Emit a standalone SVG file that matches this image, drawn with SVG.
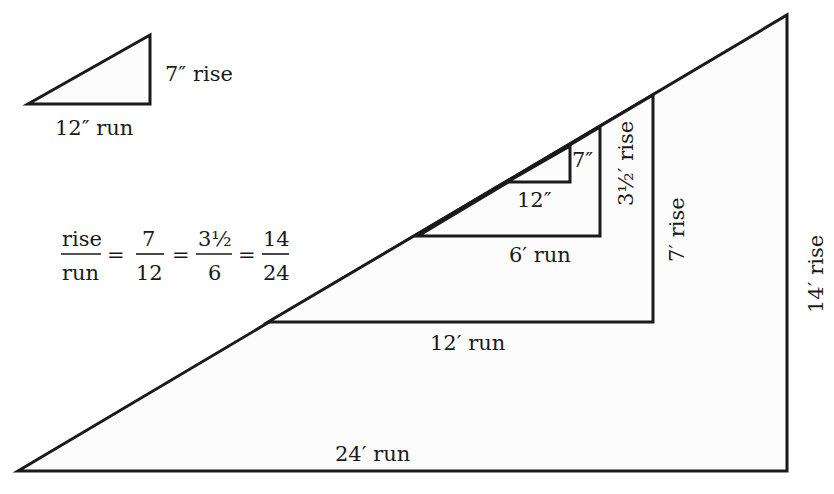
<svg xmlns="http://www.w3.org/2000/svg" width="834" height="494" viewBox="0 0 834 494">
<style>
.tri{fill:#fcfcfc;stroke:#1a1a1a;stroke-width:3;stroke-linejoin:miter}
.t{font-family:'DejaVu Serif','Liberation Serif',serif;font-size:21px;fill:#1a1a1a}
.f{stroke:#1a1a1a;stroke-width:1.6}
</style>
<rect width="834" height="494" fill="#ffffff"/>
<g id="big">
<polygon class="tri" points="18,471 787,471 787,15"/>
</g>
<g id="t12">
<polygon class="tri" points="268,322 653,322 653,95"/>
</g>
<g id="t6">
<polygon class="tri" points="418,236 600,236 600,127"/>
</g>
<g id="t1">
<polygon class="tri" points="507,182 570,182 570,146"/>
</g>
<g id="small">
<polygon class="tri" points="28,104 150,104 150,35"/>
<text class="t" x="165" y="81">7″ rise</text>
<text class="t" x="55" y="135">12″ run</text>
</g>
<g id="labels">
<text class="t" x="572" y="167">7″</text>
<text class="t" x="517" y="207">12″</text>
<text class="t" x="509" y="262">6′ run</text>
<text class="t" transform="translate(633,206) rotate(-90)">3½′ rise</text>
<text class="t" transform="translate(684,262) rotate(-90)">7′ rise</text>
<text class="t" transform="translate(823,313) rotate(-90)">14′ rise</text>
<text class="t" x="430" y="350">12′ run</text>
<text class="t" x="335" y="461">24′ run</text>
</g>
<g id="fraction">
<text class="t" x="62" y="246">rise</text>
<line class="f" x1="61" y1="254" x2="101" y2="254"/>
<text class="t" x="62" y="280">run</text>
<text class="t" x="107" y="262">=</text>
<text class="t" x="142" y="246">7</text>
<line class="f" x1="136" y1="254" x2="164" y2="254"/>
<text class="t" x="136" y="280">12</text>
<text class="t" x="172" y="262">=</text>
<text class="t" x="198" y="246">3½</text>
<line class="f" x1="196" y1="254" x2="232" y2="254"/>
<text class="t" x="208" y="280">6</text>
<text class="t" x="238" y="262">=</text>
<text class="t" x="263" y="246">14</text>
<line class="f" x1="262" y1="254" x2="289" y2="254"/>
<text class="t" x="263" y="280">24</text>
</g>
</svg>
